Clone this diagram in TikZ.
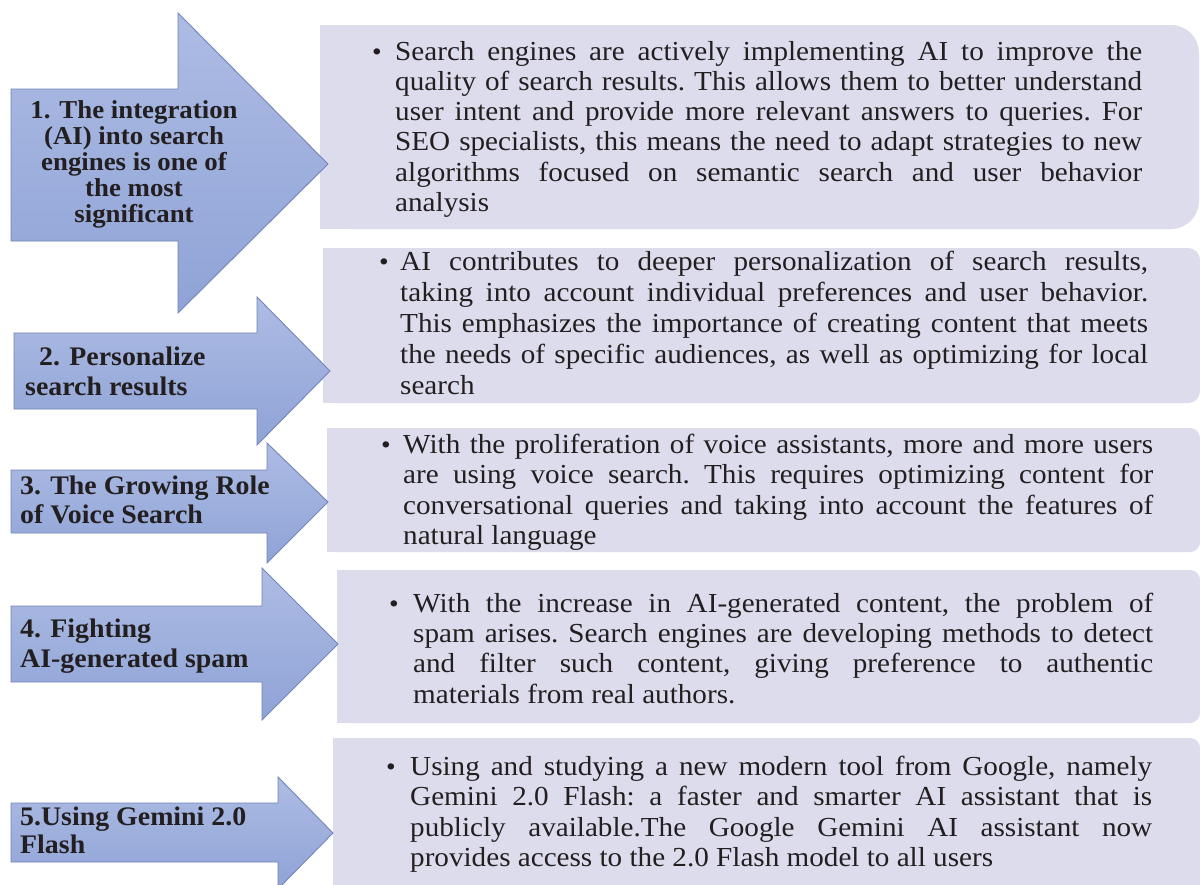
\documentclass[tikz,border=0pt]{standalone}
\usepackage{fontspec}
\setmainfont{Liberation Serif}
\newfontfamily\bodyfont[FakeStretch=1.06]{Liberation Serif}
\newfontfamily\lblfont[FakeStretch=1.04]{Liberation Serif}
\definecolor{ink}{HTML}{231F20}
\definecolor{boxfill}{HTML}{DCDCEC}
\definecolor{arrtop}{HTML}{ADBCE4}
\definecolor{arrbot}{HTML}{8FA3D6}
\definecolor{arrline}{HTML}{7384B8}
\newcommand\roundbox[5]{%
  \fill[boxfill,rounded corners=#5] (#1,#2) rectangle (#3,#4);
  \fill[boxfill] (#1,#2) rectangle ({#3-#5-2},#4);}
\newcommand\bigarrow[8]{%
  \draw[arrshape] (#1,#2) -- (#4,#2) -- (#4,#5) -- (#7,#8) -- (#4,#6) -- (#4,#3) -- (#1,#3) -- cycle;}
\newcommand\bullettext[7]{%
  \node[bul] (#1b) at (#2,#4) {\textbullet};
  \node[bodytext] (#1) at (#3,#4) {\parbox[t]{#5pt}{\fontsize{27.5}{#6}\selectfont\frenchspacing\tolerance=10000\emergencystretch=0pt #7}};}
\begin{document}
\begin{tikzpicture}[x=1pt,y=-1pt,
  arrshape/.style={draw=arrline,line width=0.9pt,top color=arrtop,bottom color=arrbot,line join=miter},
  bul/.style={anchor=base,inner sep=0pt,text=ink,font=\bodyfont\fontsize{26}{26}\selectfont},
  bodytext/.style={anchor=base west,inner sep=0pt,text=ink,font=\bodyfont},
  lbl/.style={anchor=base west,inner sep=0pt,text=ink,font=\lblfont\bfseries},
  lblc/.style={anchor=base,inner sep=0pt,text=ink,font=\lblfont\bfseries}]
\useasboundingbox (0,0) rectangle (1200,884);
\fill[white] (0,0) rectangle (1200,884);
% boxes
\roundbox{320}{25}{1199}{229}{28}
\roundbox{323}{248}{1200}{403}{12}
\roundbox{327}{428}{1200}{552}{10}
\roundbox{337}{570}{1200}{723}{10}
\roundbox{333}{738}{1200}{910}{10}
% arrows
\bigarrow{11}{89}{241}{178}{13}{313}{328}{164}
\bigarrow{14}{333}{409}{257}{297}{445}{330}{371}
\bigarrow{11}{470}{533}{267}{443}{563}{328}{502}
\bigarrow{11}{606}{682}{262}{568}{720}{338}{644}
\bigarrow{11}{803}{862}{278}{777}{889}{333}{833}
% labels
\node[lblc] (l1) at (134,118) {\parbox[t]{280pt}{\centering\fontsize{25.8}{26}\selectfont 1. The integration\\(AI) into search\\engines is one of\\the most\\significant}};
\node[lbl] (l2) at (25,365) {\parbox[t]{290pt}{\raggedright\fontsize{26.8}{30}\selectfont\hspace*{14pt}2. Personalize\\search results}};
\node[lbl] (l3) at (20,494) {\parbox[t]{290pt}{\raggedright\fontsize{26.8}{29}\selectfont 3. The Growing Role\\of Voice Search}};
\node[lbl] (l4) at (20,637) {\parbox[t]{290pt}{\raggedright\fontsize{26.8}{30}\selectfont 4. Fighting\\AI-generated spam}};
\node[lbl] (l5) at (20,825) {\parbox[t]{290pt}{\raggedright\fontsize{26.8}{28}\selectfont 5.Using Gemini 2.0\\Flash}};
% texts
\bullettext{t1}{377}{395}{60}{747}{30.3}{Search engines are actively implementing AI to improve the\linebreak quality of search results. This allows them to better understand\linebreak user intent and provide more relevant answers to queries. For\linebreak SEO specialists, this means the need to adapt strategies to new\linebreak algorithms focused on semantic search and user behavior\linebreak analysis}
\bullettext{t2}{384}{400}{270}{748}{31}{AI contributes to deeper personalization of search results,\linebreak taking into account individual preferences and user behavior.\linebreak This emphasizes the importance of creating content that meets\linebreak the needs of specific audiences, as well as optimizing for local\linebreak search}
\bullettext{t3}{386}{403}{453}{750}{30.6}{With the proliferation of voice assistants, more and more users\linebreak are using voice search. This requires optimizing content for\linebreak conversational queries and taking into account the features of\linebreak natural language}
\bullettext{t4}{394}{413}{612}{740}{30.4}{With the increase in AI-generated content, the problem of\linebreak spam arises. Search engines are developing methods to detect\linebreak and filter such content, giving preference to authentic\linebreak materials from real authors.}
\bullettext{t5}{391}{410}{775}{742}{30.6}{Using and studying a new modern tool from Google, namely\linebreak Gemini 2.0 Flash: a faster and smarter AI assistant that is\linebreak publicly available.The Google Gemini AI assistant now\linebreak provides access to the 2.0 Flash model to all users}
\end{tikzpicture}
\end{document}
